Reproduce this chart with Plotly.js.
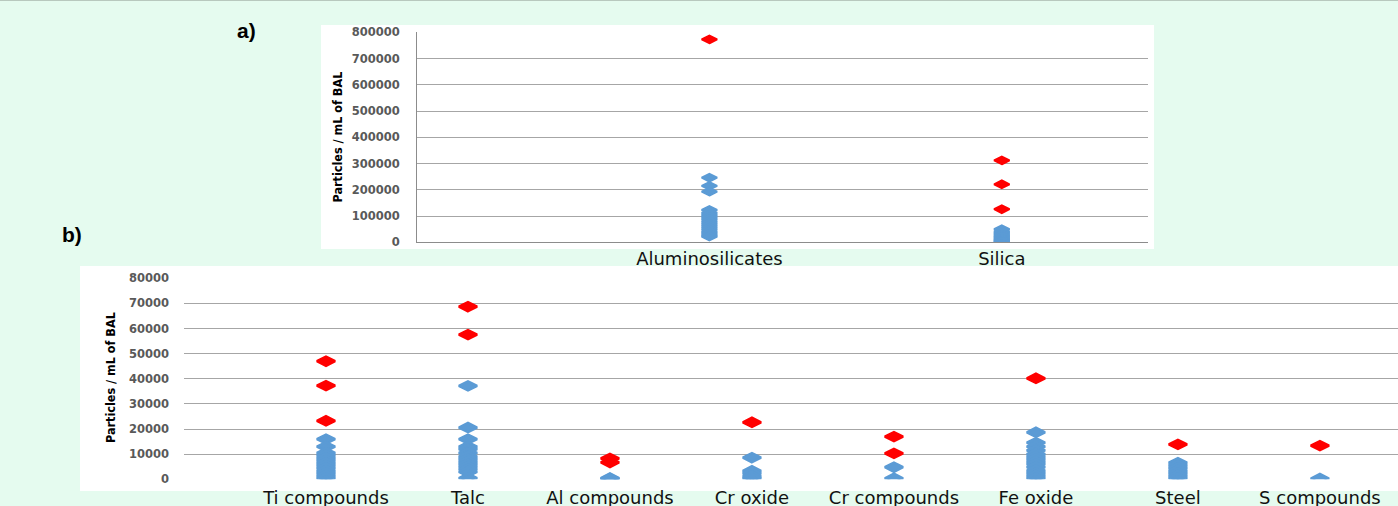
<!DOCTYPE html>
<html>
<head>
<meta charset="utf-8">
<script src="https://cdn.plot.ly/plotly-3.0.1.min.js"></script>
<style>html,body{margin:0;padding:0;background:#E5FBEF;}#chart{width:1398px;height:506px;}</style>
</head>
<body>
<div id="chart"></div>
<script>
// ---- Panel a) ----
const topCategories = ['Aluminosilicates', 'Silica'];
const topBlueValues = [
  [246000, 215000, 193000, 123000, 112000, 104000, 96000, 88000, 80000, 72000, 64000, 56000, 48000, 40000, 33000, 26000, 22000],
  [50000, 42000, 36000, 30000, 25000, 20000, 15000, 11000, 7000, 4000, 1500]
];
const topRedValues = [
  [773000],
  [312000, 221000, 126000]
];
const topYTicks = [0, 100000, 200000, 300000, 400000, 500000, 600000, 700000, 800000];

// ---- Panel b) ----
const bottomCategories = ['Ti compounds', 'Talc', 'Al compounds', 'Cr oxide', 'Cr compounds', 'Fe oxide', 'Steel', 'S compounds'];
const bottomBlueValues = [
  [16000, 13000, 10500, 9500, 8500, 7500, 6500, 5500, 4500, 3500, 2500, 1500, 500],
  [37200, 20600, 16000, 13000, 12000, 10500, 9000, 8000, 7000, 6000, 5000, 4000, 3000, 500],
  [500, 300, 100],
  [8600, 3400, 2400, 1200, 400],
  [4800, 400],
  [18700, 14600, 13000, 11500, 10000, 9000, 8000, 7000, 6000, 4800, 3500, 2500, 1500, 500],
  [6600, 5500, 4500, 3500, 2500, 1500, 500],
  [300]
];
const bottomRedValues = [
  [47000, 37300, 23300],
  [68700, 57600],
  [8300, 6700],
  [22700],
  [17000, 10300],
  [40200],
  [13900],
  [13400]
];
const bottomYTicks = [0, 10000, 20000, 30000, 40000, 50000, 60000, 70000, 80000];
const yTitle = 'Particles / mL of BAL';

const W = 1398, H = 506;
const px = v => v / W;
const py = v => 1 - v / H;

function flatten(cats, groups) {
  const x = [], y = [];
  groups.forEach((vals, i) => vals.forEach(v => { x.push(cats[i]); y.push(v); }));
  return {x, y};
}

const BLUE = '#5B9BD5', RED = '#FF0000';
const tb = flatten(topCategories, topBlueValues);
const tr = flatten(topCategories, topRedValues);
const bb = flatten(bottomCategories, bottomBlueValues);
const br = flatten(bottomCategories, bottomRedValues);

const mk = (color, size, lw) => ({symbol: 'diamond-wide', size: size, color: color, line: {width: lw, color: color}});

const traces = [
  {type: 'scatter', mode: 'markers', x: tb.x, y: tb.y, xaxis: 'x', yaxis: 'y', marker: mk(BLUE, 11, 2), showlegend: false, hoverinfo: 'x+y'},
  {type: 'scatter', mode: 'markers', x: tr.x, y: tr.y, xaxis: 'x', yaxis: 'y', marker: mk(RED, 11, 2), showlegend: false, hoverinfo: 'x+y'},
  {type: 'scatter', mode: 'markers', x: bb.x, y: bb.y, xaxis: 'x2', yaxis: 'y2', marker: mk(BLUE, 13, 2.5), showlegend: false, hoverinfo: 'x+y'},
  {type: 'scatter', mode: 'markers', x: br.x, y: br.y, xaxis: 'x2', yaxis: 'y2', marker: mk(RED, 13, 2.5), showlegend: false, hoverinfo: 'x+y'}
];

const tickFont = {family: 'DejaVu Sans', size: 11.5, color: '#595959', weight: 700};
const catFont = {family: 'DejaVu Sans', size: 18, color: '#111111'};
const titleFont = {family: 'Liberation Sans Narrow, DejaVu Sans Condensed, sans-serif', size: 12.5, color: '#000', weight: 700};

const layout = {
  width: W, height: H,
  margin: {l: 0, r: 0, t: 0, b: 0},
  paper_bgcolor: '#E5FBEF',
  plot_bgcolor: 'rgba(0,0,0,0)',
  showlegend: false,
  xaxis: {
    domain: [px(417), px(1148)], anchor: 'y',
    type: 'category', categoryorder: 'array', categoryarray: topCategories,
    range: [-1, 1.5], showgrid: false, zeroline: false,
    showline: true, linecolor: '#8C8C8C', linewidth: 1,
    ticks: '', tickfont: catFont, ticklabelstandoff: 0
  },
  yaxis: {
    domain: [py(242.3), py(32.3)], anchor: 'x',
    range: [0, 800000], tickvals: topYTicks, ticktext: topYTicks.map(String),
    showgrid: true, gridcolor: '#A6A6A6', gridwidth: 1, zeroline: false,
    showline: true, linecolor: '#8C8C8C', linewidth: 1,
    ticks: '', tickfont: tickFont, ticklabelstandoff: 14
  },
  xaxis2: {
    domain: [px(184), 1], anchor: 'y2',
    type: 'category', categoryorder: 'array', categoryarray: bottomCategories,
    range: [-1, 7.55], showgrid: false, zeroline: false,
    showline: false, ticks: '', tickfont: catFont, ticklabelstandoff: 6
  },
  yaxis2: {
    domain: [py(479.3), py(278.3)], anchor: 'x2',
    range: [0, 80000], tickvals: bottomYTicks, ticktext: bottomYTicks.map(String),
    showgrid: true, gridcolor: '#A6A6A6', gridwidth: 1, zeroline: false,
    showline: false, ticks: '', tickfont: tickFont, ticklabelstandoff: 14
  },
  shapes: [
    {type: 'rect', xref: 'paper', yref: 'paper', x0: px(321), x1: px(1154), y0: py(249), y1: py(25), fillcolor: '#FFFFFF', line: {width: 0}, layer: 'below'},
    {type: 'rect', xref: 'paper', yref: 'paper', x0: px(80), x1: 1, y0: py(491), y1: py(266), fillcolor: '#FFFFFF', line: {width: 0}, layer: 'below'},
    {type: 'line', xref: 'paper', yref: 'paper', x0: 0, x1: 1, y0: py(0.5), y1: py(0.5), line: {color: '#B8C8BE', width: 1}}
  ],
  annotations: [
    {text: 'a)', xref: 'paper', yref: 'paper', x: px(246), y: py(31), xanchor: 'center', yanchor: 'middle', showarrow: false,
     font: {family: 'Liberation Sans, Arial', size: 21, color: '#000', weight: 700}},
    {text: 'b)', xref: 'paper', yref: 'paper', x: px(72), y: py(234), xanchor: 'center', yanchor: 'middle', showarrow: false,
     font: {family: 'Liberation Sans, Arial', size: 21, color: '#000', weight: 700}},
    {text: yTitle, xref: 'paper', yref: 'paper', x: px(337), y: py(137.5), xanchor: 'center', yanchor: 'middle', textangle: -90, showarrow: false, font: titleFont},
    {text: yTitle, xref: 'paper', yref: 'paper', x: px(110), y: py(378), xanchor: 'center', yanchor: 'middle', textangle: -90, showarrow: false, font: titleFont}
  ]
};

Plotly.newPlot('chart', traces, layout, {displayModeBar: false, staticPlot: true});
</script>
</body>
</html>
